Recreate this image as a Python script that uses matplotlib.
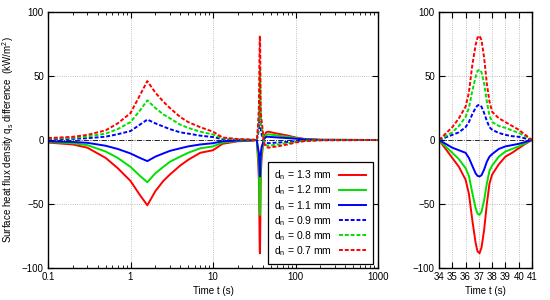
# Surface heat flux density difference for several nozzle diameters,
# full run on a log time axis (left) and the event around t = 37 s (right).
import numpy as np
import matplotlib
matplotlib.use('Agg')
import matplotlib.pyplot as plt
from matplotlib.ticker import LogLocator, NullFormatter

plt.rcParams['font.family'] = ['Liberation Sans', 'DejaVu Sans']
plt.rcParams['font.size'] = 7
plt.rcParams['mathtext.fontset'] = 'custom'
plt.rcParams['mathtext.rm'] = 'Liberation Sans'
plt.rcParams['mathtext.it'] = 'Liberation Sans'

# time points (s)
t_start = [0.1, 0.2, 0.3, 0.5, 0.7, 1.0, 1.3, 1.6, 2.0, 2.5, 3.0, 4.0, 5.0, 7.0, 10, 13, 20, 30]
t_event = [34, 34.5, 35, 35.5, 36, 36.25, 36.5, 36.75, 36.9, 37.05, 37.2, 37.4, 37.6, 37.8, 38,
           38.5, 39, 39.5, 40, 40.5, 41]
t_tail = [42, 44, 47, 60, 80, 100, 130, 200, 1000]

labels = ['1.3', '1.2', '1.1', '0.9', '0.8', '0.7']

# flux difference (kW/m2), one list per diameter and time range
q13_start = [-2, -3.5, -6, -14, -22, -32, -43, -51, -40, -32, -27, -20, -15.5, -10, -8, -3, -1, -0.5]
q12_start = [-1.5, -2.5, -4, -9, -14, -21, -28, -33, -26, -21, -17, -13, -10, -6.5, -5, -2, -0.7, -0.3]
q11_start = [-1, -1.5, -2.2, -4.5, -7, -10.5, -14, -16.5, -13, -10.5, -8.5, -6.5, -5, -3.5, -2.5, -1, -0.4, -0.2]
q09_start = [0.5, 0.9, 1.4, 2.6, 4.5, 7, 12, 16, 13, 10.5, 8.5, 6, 5, 3.4, 2.3, 0.7, 0.3, 0.1]
q08_start = [1, 1.7, 2.7, 5, 8.5, 14, 23, 31, 25, 20, 17, 12, 9.5, 6.5, 4.3, 1.3, 0.5, 0.2]
q07_start = [1.5, 2.5, 4, 7.5, 13, 21, 35, 46, 37, 30, 25, 18, 14, 10, 6.5, 2, 0.7, 0.3]

q13_event = [0, -7, -14, -21, -31, -42, -62, -80, -87, -88.5, -84, -70, -50, -34, -27,
             -19, -13, -10, -6.5, -3, 0]
q12_event = [0, -5, -10, -15, -22, -28, -41, -53, -57.5, -58.5, -56, -47, -34, -24, -20,
             -13, -9, -7, -5, -2.5, 0]
q11_event = [0, -3, -6, -8, -10, -14, -20, -26, -28, -28.5, -27.5, -23, -17, -13, -11,
             -7, -5, -4, -3, -1.5, 0]
q09_event = [0, 2, 4, 6, 10, 14, 20, 25, 27, 27.5, 26, 21, 15, 10, 8,
             5.5, 4, 3, 2.5, 1.2, 0]
q08_event = [0, 3, 6, 11, 18, 25, 38, 49, 54, 55, 53, 44, 30, 19, 14,
             11, 9.5, 7.5, 5.5, 3, 0]
q07_event = [0, 5, 10, 17, 26, 37, 58, 74, 80, 81.5, 78, 64, 44, 30, 22,
             17, 14, 11, 8, 4, 0]

q13_tail = [3, 6, 6.5, 5, 3.5, 2, 0.8, 0.2, 0]
q12_tail = [2, 4, 4.5, 3.5, 2.5, 1.5, 0.6, 0.1, 0]
q11_tail = [1, 2.5, 2.5, 2, 1.5, 1, 0.4, 0.1, 0]
q09_tail = [-1, -2, -2.5, -2, -1.5, -1, -0.4, -0.1, 0]
q08_tail = [-2, -4, -4.5, -3.5, -2.5, -1.5, -0.6, -0.1, 0]
q07_tail = [-3, -5.5, -6, -5, -3.5, -2, -0.8, -0.2, 0]

series = [
    (q13_start, q13_event, q13_tail),
    (q12_start, q12_event, q12_tail),
    (q11_start, q11_event, q11_tail),
    (q09_start, q09_event, q09_tail),
    (q08_start, q08_event, q08_tail),
    (q07_start, q07_event, q07_tail),
]
colors = ['#ff0000', '#00e000', '#0000ff', '#0000ff', '#00e000', '#ff0000']
dashed = [False, False, False, True, True, True]

fig = plt.figure(figsize=(5.5, 3.0), dpi=100)
ax1 = fig.add_axes([48 / 550, 32 / 300, 330 / 550, 256 / 300])
ax2 = fig.add_axes([439 / 550, 32 / 300, 93 / 550, 256 / 300])

t_all = np.array(t_start + t_event + t_tail)
for (qs, qe, qt), c, d, lab in zip(series, colors, dashed, labels):
    q_all = np.array(qs + qe + qt)
    ls = (0, (2, 1)) if d else '-'
    ax1.plot(t_all, q_all, color=c, lw=1.4, ls=ls,
             label='d$_\\mathregular{n}$ = ' + lab + ' mm')
    ax2.plot(t_event, qe, color=c, lw=1.4, ls=ls)

for ax in (ax1, ax2):
    ax.axhline(0, color='black', lw=0.6, ls='-.', zorder=0)
    ax.set_ylim(-100, 100)
    ax.set_yticks([-100, -50, 0, 50, 100])
    ax.tick_params(direction='in', top=True, right=True, length=4, width=0.8,
                   labelsize=7, pad=3)
    ax.tick_params(which='minor', direction='in', top=True, right=True, length=2, width=0.6)
    for s in ax.spines.values():
        s.set_linewidth(1.0)
    for y in (-50, 50):
        ax.axhline(y, color='#aaaaaa', lw=0.6, ls=':', zorder=0)
    ax.set_xlabel('Time t (s)', fontsize=7, labelpad=3)

ax1.set_xscale('log')
ax1.set_xlim(0.1, 1000)
ax1.set_xticks([0.1, 1, 10, 100, 1000])
ax1.set_xticklabels(['0.1', '1', '10', '100', '1000'])
ax1.xaxis.set_minor_locator(LogLocator(base=10, subs=np.arange(2, 10)))
ax1.xaxis.set_minor_formatter(NullFormatter())
for x in (1, 10, 100):
    ax1.axvline(x, color='#aaaaaa', lw=0.6, ls=':', zorder=0)
ax1.set_ylabel('Surface heat flux density q$_\\mathregular{s}$ difference  (kW/m$^\\mathregular{2}$)',
               fontsize=7, labelpad=4)

ax2.set_xlim(34, 41)
ax2.set_xticks(range(34, 42))
for x in range(35, 41):
    ax2.axvline(x, color='#aaaaaa', lw=0.6, ls=':', zorder=0)

leg = ax1.legend(loc='lower right', bbox_to_anchor=(0.984, 0.016), markerfirst=False,
                 handlelength=2.6, fontsize=7.5, labelspacing=0.12, borderpad=0.6,
                 handletextpad=0.7, borderaxespad=0, fancybox=False, framealpha=1,
                 edgecolor='black')
leg.get_frame().set_linewidth(0.9)

fig.savefig('out.png', dpi=100)
